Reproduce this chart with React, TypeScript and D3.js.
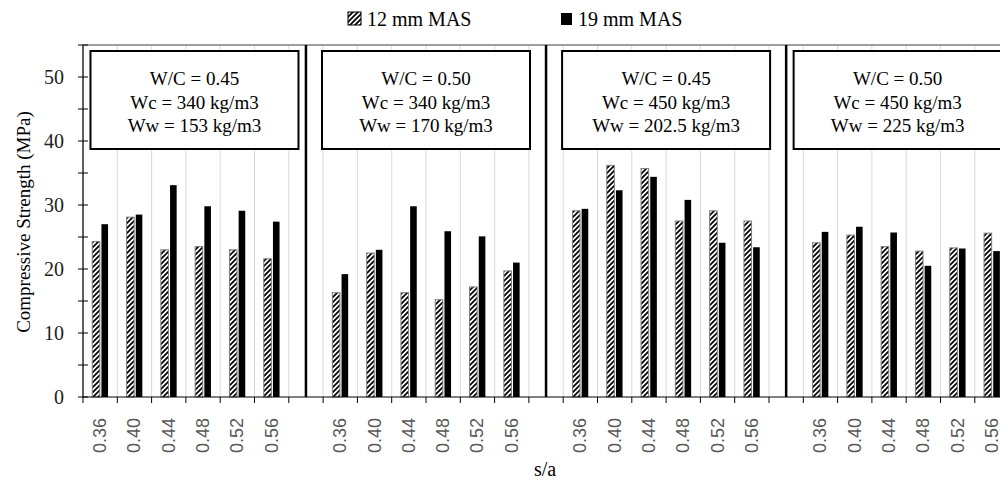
import React from 'react';
import * as d3 from 'd3';

// s/a ratios on the x axis (same in each panel)
const saRatios = ['0.36', '0.40', '0.44', '0.48', '0.52', '0.56'];

// panel annotations
const wcRatio = ['0.45', '0.50', '0.45', '0.50'];
const cementContent = ['340', '340', '450', '450'];
const waterContent = ['153', '170', '202.5', '225'];

// compressive strength (MPa) per panel
const mas12 = [
  [24.3, 28.1, 23.0, 23.5, 23.0, 21.6],
  [16.3, 22.5, 16.3, 15.2, 17.2, 19.7],
  [29.1, 36.2, 35.7, 27.5, 29.1, 27.5],
  [24.1, 25.3, 23.5, 22.8, 23.3, 25.6],
];
const mas19 = [
  [27.0, 28.5, 33.1, 29.8, 29.1, 27.4],
  [19.2, 23.0, 29.8, 25.9, 25.1, 21.0],
  [29.4, 32.3, 34.4, 30.8, 24.1, 23.4],
  [25.8, 26.6, 25.7, 20.5, 23.2, 22.8],
];

const yTicks = [0, 10, 20, 30, 40, 50];

const serif = 'Liberation Serif';
const sans = 'Liberation Sans, Arimo, Arial, sans-serif';

const left = 83, top = 45, bottom = 397;
const slotW = 34.3;

// slots: 6 categories per panel, with an empty slot between panels
const slots: string[] = [];
mas12.forEach((_, p) => {
  saRatios.forEach(s => slots.push(`${p}|${s}`));
  if (p < mas12.length - 1) slots.push(`gap${p}`);
});

const x = d3.scaleBand<string>().domain(slots).range([left, left + slots.length * slotW]);
const y = d3.scaleLinear().domain([0, 55]).range([bottom, top]);
const minorTicks = d3.range(0, 56, 5);

export default function App() {
  const right = left + slots.length * slotW;
  const bw = x.bandwidth();
  const barW = 7.6;
  const seps = mas12.slice(0, -1).map((_, p) => (x(`gap${p}`) as number) + bw / 2);
  const panelEdges = [left, ...seps, right];

  return (
    <svg width={1000} height={480} style={{ position: 'absolute', left: 0, top: 0, background: '#fff' }}>
      <defs>
        <pattern id="hatch" patternUnits="userSpaceOnUse" width={5} height={5}>
          <rect width={5} height={5} fill="#fff" />
          <path d="M-1,1 l2,-2 M0,5 l5,-5 M4,6 l2,-2" stroke="#000" strokeWidth={1.8} />
        </pattern>
      </defs>

      {/* category gridlines */}
      {d3.range(slots.length + 1).map(i => (
        <line key={'g' + i} x1={left + i * slotW} x2={left + i * slotW} y1={top} y2={bottom} stroke="#d9d9d9" strokeWidth={1} />
      ))}
      <line x1={left} x2={right} y1={top} y2={top} stroke="#7f7f7f" strokeWidth={1.5} />
      <line x1={right} x2={right} y1={top} y2={bottom} stroke="#7f7f7f" strokeWidth={1.5} />

      {/* bars */}
      {mas12.map((vals, p) =>
        saRatios.map((s, i) => {
          const cx = (x(`${p}|${s}`) as number) + bw / 2 + 0.5;
          return (
            <g key={`b${p}-${i}`}>
              <rect x={cx - barW - 0.8} y={y(vals[i])} width={barW} height={bottom - y(vals[i])}
                fill="url(#hatch)" stroke="#808080" strokeWidth={1} />
              <rect x={cx + 0.8} y={y(mas19[p][i])} width={barW - 1} height={bottom - y(mas19[p][i])}
                fill="#000" />
            </g>
          );
        })
      )}

      {/* panel separators */}
      {seps.map((sx, i) => (
        <line key={'s' + i} x1={sx} x2={sx} y1={top} y2={bottom} stroke="#000" strokeWidth={2.5} />
      ))}

      {/* annotation boxes */}
      {wcRatio.map((wc, p) => {
        const cx = (panelEdges[p] + panelEdges[p + 1]) / 2;
        const lines = [`W/C = ${wc}`, `Wc = ${cementContent[p]} kg/m3`, `Ww = ${waterContent[p]} kg/m3`];
        return (
          <g key={'box' + p}>
            <rect x={cx - 104} y={51} width={208} height={98} fill="#fff" stroke="#000" strokeWidth={2} />
            {lines.map((t, j) => (
              <text key={j} x={cx} y={85 + j * 23.5} textAnchor="middle" fontFamily={serif} fontSize={19} fill="#000">{t}</text>
            ))}
          </g>
        );
      })}

      {/* y axis */}
      <line x1={left} x2={left} y1={top} y2={bottom} stroke="#000" strokeWidth={1.2} />
      {minorTicks.map(t => (
        <line key={'yt' + t} x1={left - 5} x2={left + 5} y1={y(t)} y2={y(t)} stroke="#000" strokeWidth={1} />
      ))}
      {yTicks.map(t => (
        <text key={'yl' + t} x={64} y={y(t)} dy="0.35em" textAnchor="end" fontFamily={serif} fontSize={20} fill="#222">{t}</text>
      ))}
      <text transform={`translate(30,${222}) rotate(-90)`} textAnchor="middle" fontFamily={serif} fontSize={19} fill="#000">
        Compressive Strength (MPa)
      </text>

      {/* x axis */}
      <line x1={left} x2={right} y1={bottom} y2={bottom} stroke="#000" strokeWidth={1.2} />
      {d3.range(slots.length + 1).map(i => (
        <line key={'xt' + i} x1={left + i * slotW} x2={left + i * slotW} y1={bottom} y2={bottom + 6} stroke="#000" strokeWidth={1} />
      ))}
      {mas12.map((_, p) =>
        saRatios.map(s => {
          const cx = (x(`${p}|${s}`) as number) + bw / 2;
          return (
            <text key={`xl${p}${s}`} transform={`translate(${cx + 6},418) rotate(-90)`} textAnchor="end"
              fontFamily={sans} fontSize={18} fill="#595959">{s}</text>
          );
        })
      )}
      <text x={545} y={476} textAnchor="middle" fontFamily={serif} fontSize={20} fill="#000">s/a</text>

      {/* legend */}
      <rect x={348} y={12} width={13} height={13} fill="url(#hatch)" stroke="#000" strokeWidth={1} />
      <text x={367} y={26} fontFamily={serif} fontSize={20} fill="#000">12 mm MAS</text>
      <rect x={561} y={13} width={11} height={12} fill="#000" />
      <text x={578} y={26} fontFamily={serif} fontSize={20} fill="#000">19 mm MAS</text>
    </svg>
  );
}
